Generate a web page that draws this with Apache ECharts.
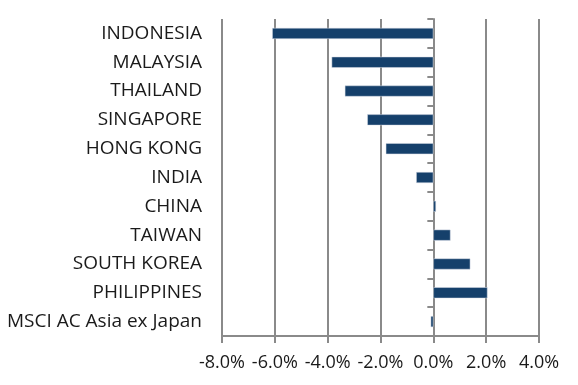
<!DOCTYPE html>
<html>
<head>
<meta charset="utf-8">
<script src="https://cdn.jsdelivr.net/npm/echarts@6/dist/echarts.min.js"></script>
<style>html,body{margin:0;padding:0;background:#fff;}#c{width:578px;height:385px;}</style>
</head>
<body>
<div id="c"></div>
<script>
const categories = ["INDONESIA","MALAYSIA","THAILAND","SINGAPORE","HONG KONG","INDIA","CHINA","TAIWAN","SOUTH KOREA","PHILIPPINES","MSCI AC Asia ex Japan"];
const values = [-6.1, -3.85, -3.35, -2.5, -1.8, -0.65, 0.1, 0.65, 1.4, 2.05, -0.1];
const xTicks = [-8, -6, -4, -2, 0, 2, 4];

const FONT = '"Open Sans", sans-serif';
const chart = echarts.init(document.getElementById('c'), null, {renderer: 'canvas'});
chart.setOption({
  animation: false,
  backgroundColor: '#fff',
  grid: {left: 222, right: 39, top: 19, bottom: 49, containLabel: false},
  xAxis: {
    type: 'value', min: xTicks[0], max: xTicks[xTicks.length - 1], interval: 2,
    axisLine: {show: true, onZero: false, lineStyle: {color: '#8a8a8a', width: 2}},
    axisTick: {show: true, length: 7, lineStyle: {color: '#8a8a8a', width: 2}},
    splitLine: {show: true, lineStyle: {color: '#8a8a8a', width: 2}},
    axisLabel: {formatter: v => v.toFixed(1) + '%', color: '#1a1a1a', fontFamily: FONT, fontSize: 18, margin: 18}
  },
  yAxis: [{
    type: 'category', data: categories, inverse: true, position: 'left',
    axisLine: {show: false, onZero: false}, axisTick: {show: false},
    axisLabel: {color: '#1a1a1a', fontFamily: FONT, fontSize: 19, margin: 20}
  }, {
    type: 'category', data: categories, inverse: true, position: 'left',
    axisLine: {show: true, onZero: true, lineStyle: {color: '#8a8a8a', width: 2}},
    axisTick: {show: true, length: 6, lineStyle: {color: '#8a8a8a', width: 2}},
    axisLabel: {show: false}
  }],
  series: [{
    type: 'bar', data: values, yAxisIndex: 0, barWidth: 11,
    itemStyle: {color: '#15406b', borderColor: '#d8dde6', borderWidth: 0.5}
  }]
});
</script>
</body>
</html>
